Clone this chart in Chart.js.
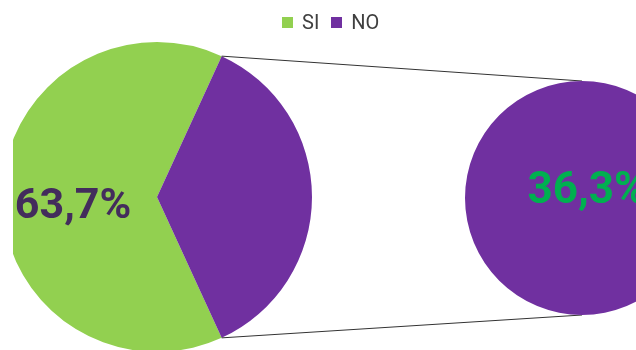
<!DOCTYPE html>
<html>
<head>
<meta charset="utf-8">
<title>SI / NO</title>
<script src="https://cdn.jsdelivr.net/npm/chart.js@4/dist/chart.umd.min.js"></script>
<style>
    body { margin: 0; background: #fff; }
    #wrap { position: relative; width: 636px; height: 350px; overflow: hidden; }
    #mainCanvas, #detailCanvas { position: absolute; top: 0; left: 0; }
    /* the main pie runs off the left edge of the frame */
    #mainCanvas { clip-path: inset(0 0 0 13px); }
    #legend {
        position: absolute; top: 11px; left: 282px;
        display: flex; align-items: center;
        font: 20px Roboto, sans-serif; color: #404040; line-height: 22px;
    }
    #legend .item { display: flex; align-items: center; margin-right: 12px; }
    #legend .box { width: 11px; height: 11px; margin-right: 9px; }
</style>
</head>
<body>
<div id="wrap">
    <canvas id="mainCanvas" width="636" height="354"></canvas>
    <canvas id="detailCanvas" width="699" height="350"></canvas>
    <div id="legend"></div>
</div>
<script>
// Answers split into SI / NO
const categories = ['SI', 'NO'];
const shareValues = [63.7, 36.3];
const sliceColors = ['#92d050', '#7030a0'];

// Second pie: the NO slice broken out on its own
const detailCategories = ['NO'];
const detailValues = [36.3];
const detailColors = ['#7030a0'];

let mainChart = null;

const formatPct = v => v.toFixed(1).replace('.', ',') + '%';

// Draws the percentage text of one slice at an offset from the pie center
const sliceLabelPlugin = {
    id: 'sliceLabel',
    afterDatasetsDraw(chart, args, opts) {
        const arc = chart.getDatasetMeta(0).data[opts.index];
        const value = chart.data.datasets[0].data[opts.index];
        const ctx = chart.ctx;
        ctx.save();
        ctx.font = `bold ${opts.size}px Roboto, sans-serif`;
        ctx.fillStyle = opts.color;
        ctx.textAlign = 'center';
        ctx.textBaseline = 'alphabetic';
        ctx.fillText(formatPct(value), arc.x + opts.dx, arc.y + opts.dy);
        ctx.restore();
    }
};

// Lines joining the edges of the NO slice to the top and bottom of the second pie
const connectorPlugin = {
    id: 'connector',
    beforeDatasetsDraw(chart, args, opts) {
        if (!mainChart) return;
        const src = mainChart.getDatasetMeta(0).data[1];
        const dst = chart.getDatasetMeta(0).data[0];
        const ctx = chart.ctx;
        ctx.save();
        ctx.strokeStyle = opts.color;
        ctx.lineWidth = 1;
        ctx.beginPath();
        ctx.moveTo(src.x + Math.cos(src.startAngle) * src.outerRadius,
                   src.y + Math.sin(src.startAngle) * src.outerRadius);
        ctx.lineTo(dst.x, dst.y - dst.outerRadius);
        ctx.moveTo(src.x + Math.cos(src.endAngle) * src.outerRadius,
                   src.y + Math.sin(src.endAngle) * src.outerRadius);
        ctx.lineTo(dst.x, dst.y + dst.outerRadius);
        ctx.stroke();
        ctx.restore();
    }
};

// Turn the pie so the NO slice sits centred on the right-hand side
const total = shareValues.reduce((a, b) => a + b, 0);
const mainRotation = 90 + (shareValues[1] / total) * 180;

mainChart = new Chart(document.getElementById('mainCanvas'), {
    type: 'pie',
    data: {
        labels: categories,
        datasets: [{
            data: shareValues,
            backgroundColor: sliceColors,
            borderWidth: 0
        }]
    },
    options: {
        responsive: false,
        animation: false,
        rotation: mainRotation,
        layout: { padding: { left: 2, right: 324, top: 42, bottom: 2 } },
        plugins: {
            legend: { display: false },
            tooltip: { enabled: false },
            sliceLabel: { index: 0, dx: -84, dy: 21, size: 43, color: '#432c5c' }
        }
    },
    plugins: [sliceLabelPlugin]
});

new Chart(document.getElementById('detailCanvas'), {
    type: 'pie',
    data: {
        labels: detailCategories,
        datasets: [{
            data: detailValues,
            backgroundColor: detailColors,
            borderWidth: 0
        }]
    },
    options: {
        responsive: false,
        animation: false,
        layout: { padding: { left: 465, right: 0, top: 81, bottom: 35 } },
        plugins: {
            legend: { display: false },
            tooltip: { enabled: false },
            connector: { color: '#333333' },
            sliceLabel: { index: 0, dx: 5, dy: 5, size: 44, color: '#00b050' }
        }
    },
    plugins: [connectorPlugin, sliceLabelPlugin]
});

// HTML legend built from the main chart's own legend items
const legendEl = document.getElementById('legend');
mainChart.options.plugins.legend.labels.generateLabels(mainChart).forEach(item => {
    const el = document.createElement('span');
    el.className = 'item';
    const box = document.createElement('span');
    box.className = 'box';
    box.style.background = item.fillStyle;
    el.appendChild(box);
    el.appendChild(document.createTextNode(item.text));
    legendEl.appendChild(el);
});
</script>
</body>
</html>
